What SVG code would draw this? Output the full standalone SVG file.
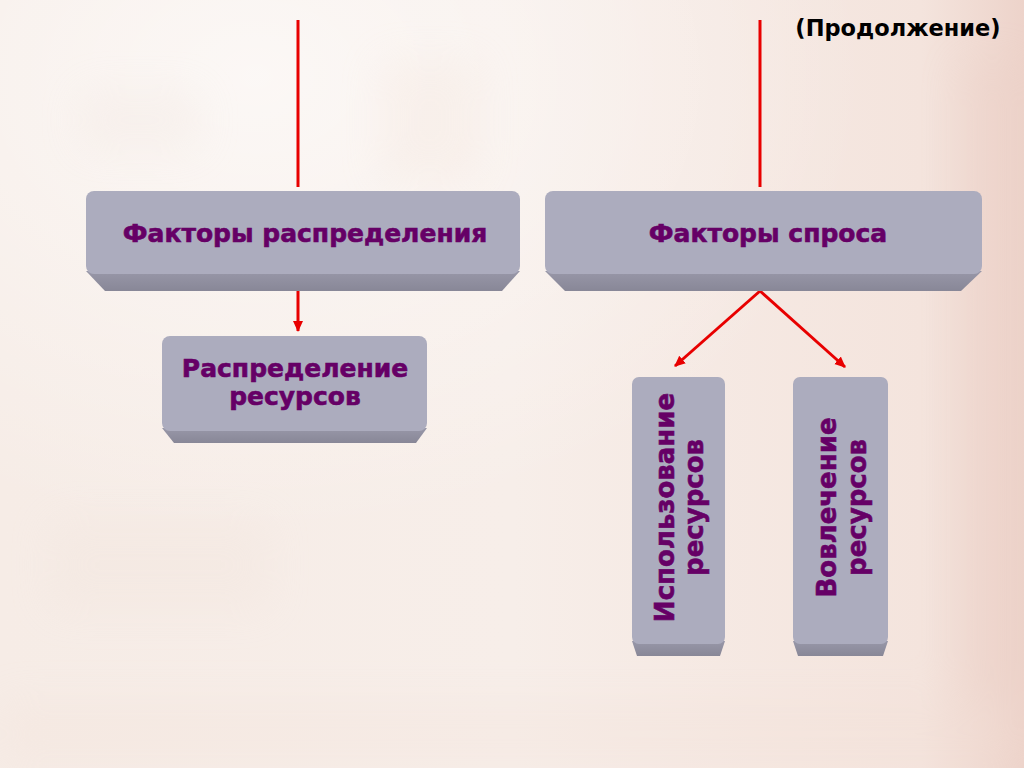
<svg xmlns="http://www.w3.org/2000/svg" width="1024" height="768" viewBox="0 0 1024 768">
<defs>
<linearGradient id="bgL" x1="0" y1="0" x2="1" y2="0">
<stop offset="0" stop-color="#F6ECE6"/>
<stop offset="0.5" stop-color="#F7EEE9"/>
<stop offset="0.9" stop-color="#F4E4DD"/>
<stop offset="1" stop-color="#EDD3CA"/>
</linearGradient>
<radialGradient id="bgR" cx="0.25" cy="0.1" r="0.6">
<stop offset="0" stop-color="#FFFFFF" stop-opacity="0.6"/>
<stop offset="1" stop-color="#FFFFFF" stop-opacity="0"/>
</radialGradient>
<linearGradient id="bev" x1="0" y1="0" x2="0" y2="1">
<stop offset="0" stop-color="#9897A8"/>
<stop offset="1" stop-color="#888797"/>
</linearGradient>
<marker id="ah" markerUnits="userSpaceOnUse" markerWidth="12" markerHeight="12" viewBox="0 0 12 12" refX="10" refY="6" orient="auto">
<path d="M0,1 L11,6 L0,11 Z" fill="#E80000"/>
</marker>
<filter id="blur" x="-20%" y="-20%" width="140%" height="140%"><feGaussianBlur stdDeviation="20"/></filter>
</defs>
<style>
.face{fill:#ACACBE}
.bevel{fill:url(#bev)}
.t{font-family:"DejaVu Sans","Verdana",sans-serif;font-weight:bold;fill:#660066;stroke:#660066;stroke-width:0.6;text-anchor:middle}
.ln{stroke:#E80000;stroke-width:3;fill:none}
</style>
<rect x="0" y="0" width="1024" height="768" fill="url(#bgL)"/>
<rect x="0" y="0" width="1024" height="768" fill="url(#bgR)"/>
<g filter="url(#blur)" opacity="0.2">
<rect x="80" y="90" width="120" height="60" fill="#EBDDD5"/>
<rect x="380" y="60" width="100" height="120" fill="#F1DCCF"/>
<rect x="50" y="520" width="220" height="90" fill="#EEDFD6"/>
<rect x="960" y="60" width="64" height="700" fill="#E8C9BF"/>
<rect x="0" y="700" width="1024" height="68" fill="#F1DCD2"/>
</g>
<text x="898" y="36" style="font-family:'DejaVu Sans','Verdana',sans-serif;font-weight:bold;font-size:22.5px;fill:#000;text-anchor:middle">(Продолжение)</text>
<g id="connectors">
<line class="ln" x1="298" y1="20" x2="298" y2="187"/>
<line class="ln" x1="760" y1="20" x2="760" y2="187"/>
<line class="ln" x1="298" y1="290" x2="298" y2="331" marker-end="url(#ah)"/>
<line class="ln" x1="760" y1="291" x2="675" y2="366" marker-end="url(#ah)"/>
<line class="ln" x1="760" y1="291" x2="845" y2="367" marker-end="url(#ah)"/>
</g>
<g id="node-factors-distribution">
<path class="bevel" d="M86,271 L520,271 L502,291 L105,291 Z"/>
<rect class="face" x="86" y="191" width="434" height="83" rx="8"/>
<text class="t" x="305" y="242" font-size="25">Факторы распределения</text>
</g>
<g id="node-factors-demand">
<path class="bevel" d="M545,271 L982,271 L961,291 L565,291 Z"/>
<rect class="face" x="545" y="191" width="437" height="83" rx="8"/>
<text class="t" x="768" y="242" font-size="25">Факторы спроса</text>
</g>
<g id="node-distribution">
<path class="bevel" d="M162,428 L427,428 L416,443 L174,443 Z"/>
<rect class="face" x="162" y="336" width="265" height="95" rx="8"/>
<text class="t" x="295" y="377" font-size="25">Распределение</text>
<text class="t" x="295" y="405" font-size="25">ресурсов</text>
</g>
<g id="node-usage">
<path class="bevel" d="M632,641 L725,641 L720,656 L637,656 Z"/>
<rect class="face" x="632" y="377" width="93" height="267" rx="7"/>
<text class="t" font-size="26" transform="translate(674,507.5) rotate(-90)">Использование</text>
<text class="t" font-size="26" transform="translate(703,507.5) rotate(-90)">ресурсов</text>
</g>
<g id="node-involvement">
<path class="bevel" d="M793,641 L888,641 L883,656 L798,656 Z"/>
<rect class="face" x="793" y="377" width="95" height="267" rx="7"/>
<text class="t" font-size="26" transform="translate(836,507.5) rotate(-90)">Вовлечение</text>
<text class="t" font-size="26" transform="translate(866,507.5) rotate(-90)">ресурсов</text>
</g>
</svg>
